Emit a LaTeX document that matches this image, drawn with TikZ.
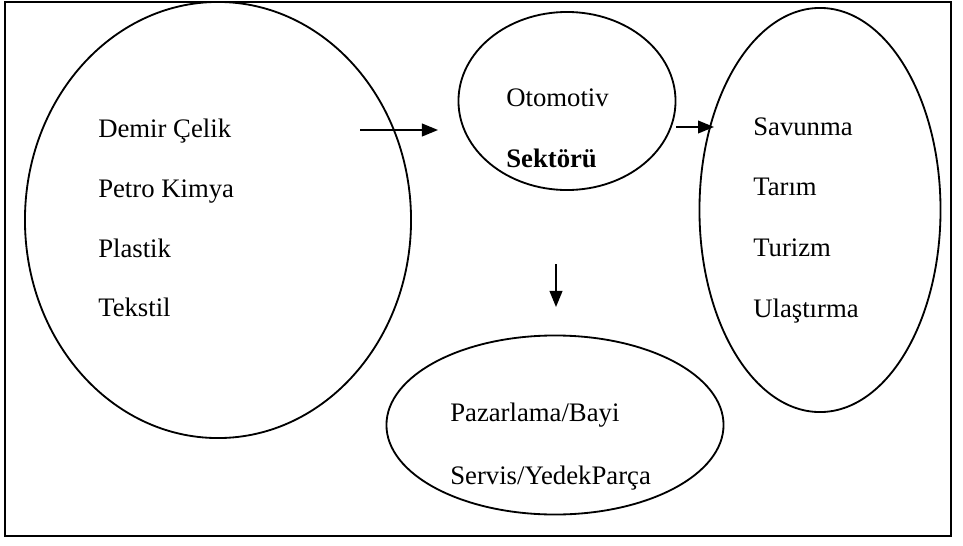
\documentclass[tikz,border=0pt]{standalone}
\usepackage{fontspec}
\setmainfont{Liberation Serif}
\usetikzlibrary{arrows.meta,shapes.geometric}

\begin{document}
\begin{tikzpicture}[x=0.025cm,y=-0.025cm,
	oval/.style={draw,ellipse,line width=1.3pt,inner sep=0pt},
	lbl/.style={anchor=base west,inner sep=0pt,font=\fontsize{19}{23}\selectfont},
	arr/.style={-{Triangle[length=0.4cm,width=0.32cm]},line width=1pt}]
		\useasboundingbox (0,0) rectangle (963,546);
		%%%%% START %%%%%
		\draw[line width=1.6pt] (5,2) rectangle (951,536);
		
		\node[oval,minimum width=9.65cm,minimum height=10.9cm] (girdi) at (218,220) {};
		\node[lbl] (demir) at (98,137) {Demir Çelik};
		\node[lbl] (petro) at (98,197) {Petro Kimya};
		\node[lbl] (plastik) at (98,257) {Plastik};
		\node[lbl] (tekstil) at (98,316) {Tekstil};
		
		\node[oval,minimum width=5.425cm,minimum height=4.45cm] (otomotiv) at (567,101) {};
		\node[lbl] (oto) at (506,106) {Otomotiv};
		\node[lbl] (sektor) at (506,167) {\bfseries Sektörü};
		
		\node[oval,minimum width=6.025cm,minimum height=10.1cm] (cikti) at (820,210) {};
		\node[lbl] (savunma) at (753,135) {Savunma};
		\node[lbl] (tarim) at (753,195) {Tarım};
		\node[lbl] (turizm) at (753,256) {Turizm};
		\node[lbl] (ulastirma) at (753,317) {Ulaştırma};
		
		\node[oval,minimum width=8.425cm,minimum height=4.475cm] (hizmet) at (555,425) {};
		\node[lbl] (pazarlama) at (450,421) {Pazarlama/Bayi};
		\node[lbl] (servis) at (450,484) {Servis/YedekParça};
		
		\coordinate (a1) at (360,130);
		\coordinate (b1) at (438,130);
		\coordinate (a2) at (676,127);
		\coordinate (b2) at (714,127);
		\coordinate (a3) at (556,264);
		\coordinate (b3) at (556,307);
		\draw[arr] (a1) -- (b1);
		\draw[arr] (a2) -- (b2);
		\draw[arr] (a3) -- (b3);
		%%%%% END %%%%%
\end{tikzpicture}
\end{document}
